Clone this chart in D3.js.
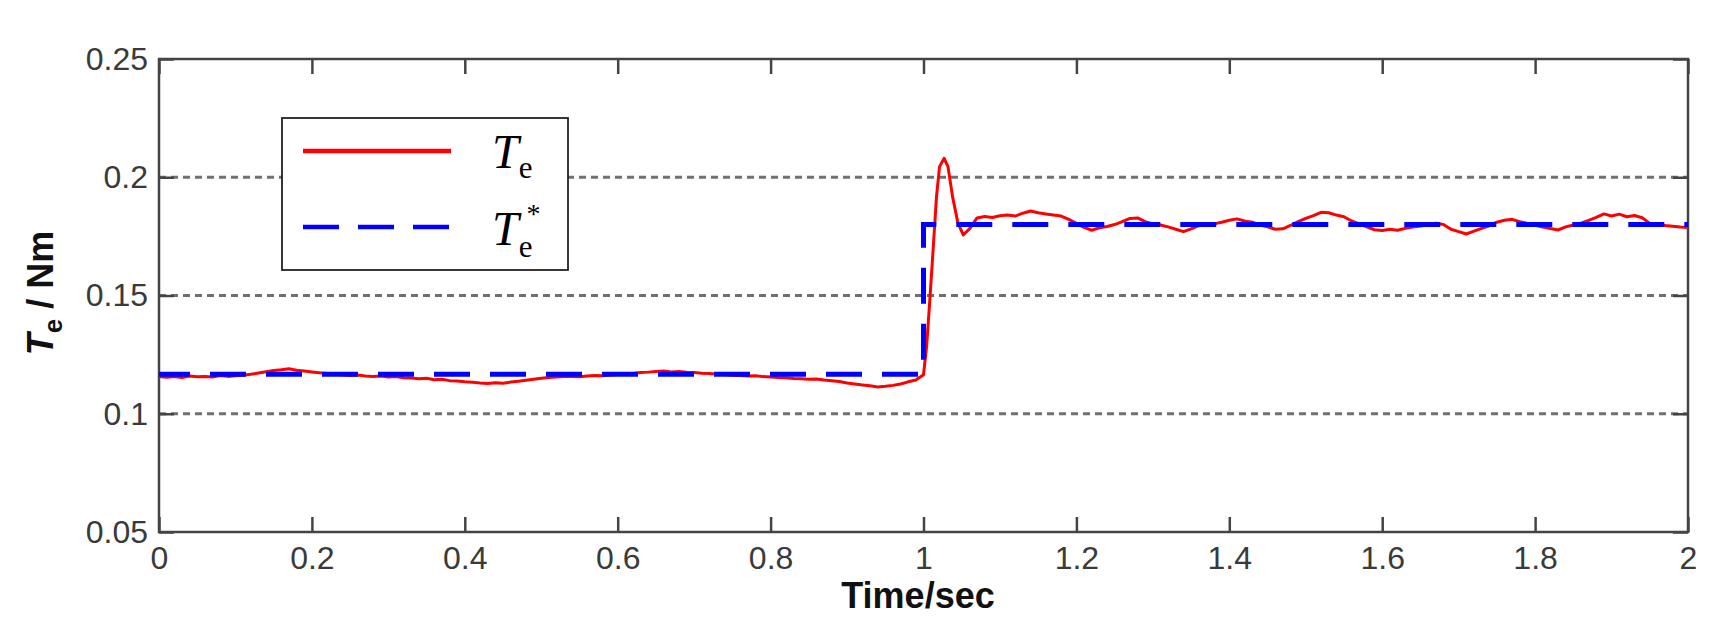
<!DOCTYPE html>
<html>
<head>
<meta charset="utf-8">
<script src="https://cdn.jsdelivr.net/npm/d3@7"></script>
<style>
  html, body { margin: 0; padding: 0; background: #fff; }
  svg { display: block; }
</style>
</head>
<body>
<script>
// ---- data ----
const xTicks = [0, 0.2, 0.4, 0.6, 0.8, 1, 1.2, 1.4, 1.6, 1.8, 2];
const yTicks = [0.05, 0.1, 0.15, 0.2, 0.25];
const gridValues = [0.1, 0.15, 0.2];

const teTime = [
  0.00,0.01,0.02,0.03,0.04,0.05,0.06,0.07,0.08,0.09,
  0.10,0.11,0.12,0.13,0.14,0.15,0.16,0.17,0.18,0.19,
  0.20,0.21,0.22,0.23,0.24,0.25,0.26,0.27,0.28,0.29,
  0.30,0.31,0.32,0.33,0.34,0.35,0.36,0.37,0.38,0.39,
  0.40,0.41,0.42,0.43,0.44,0.45,0.46,0.47,0.48,0.49,
  0.50,0.51,0.52,0.53,0.54,0.55,0.56,0.57,0.58,0.59,
  0.60,0.61,0.62,0.63,0.64,0.65,0.66,0.67,0.68,0.69,
  0.70,0.71,0.72,0.73,0.74,0.75,0.76,0.77,0.78,0.79,
  0.80,0.81,0.82,0.83,0.84,0.85,0.86,0.87,0.88,0.89,
  0.90,0.91,0.92,0.93,0.94,0.95,0.96,0.97,0.98,0.99,
  1.000,1.004,1.008,1.012,1.017,1.021,1.027,1.032,1.038,1.045,1.052,1.061,
  1.07,1.08,1.09,1.10,1.11,1.12,1.13,1.14,1.15,1.16,1.17,1.18,1.19,
  1.20,1.21,1.22,1.23,1.24,1.25,1.26,1.27,1.28,1.29,
  1.30,1.31,1.32,1.33,1.34,1.35,1.36,1.37,1.38,1.39,
  1.40,1.41,1.42,1.43,1.44,1.45,1.46,1.47,1.48,1.49,
  1.50,1.51,1.52,1.53,1.54,1.55,1.56,1.57,1.58,1.59,
  1.60,1.61,1.62,1.63,1.64,1.65,1.66,1.67,1.68,1.69,
  1.70,1.71,1.72,1.73,1.74,1.75,1.76,1.77,1.78,1.79,
  1.80,1.81,1.82,1.83,1.84,1.85,1.86,1.87,1.88,1.89,
  1.90,1.91,1.92,1.93,1.94,1.95,1.96,1.97,1.98,1.99,2.00];
const teValue = [
  0.1158,0.1154,0.1157,0.1153,0.1160,0.1156,0.1158,0.1155,0.1162,0.1158,
  0.1161,0.1163,0.1167,0.1172,0.1178,0.1183,0.1186,0.1190,0.1184,0.1181,
  0.1177,0.1173,0.1170,0.1167,0.1165,0.1162,0.1164,0.1160,0.1158,0.1160,
  0.1155,0.1157,0.1152,0.1151,0.1148,0.1150,0.1144,0.1146,0.1140,0.1138,
  0.1135,0.1133,0.1130,0.1128,0.1131,0.1129,0.1134,0.1137,0.1142,0.1146,
  0.1150,0.1153,0.1155,0.1157,0.1158,0.1156,0.1160,0.1162,0.1161,0.1164,
  0.1166,0.1168,0.1170,0.1174,0.1176,0.1179,0.1181,0.1177,0.1179,0.1175,
  0.1174,0.1171,0.1170,0.1167,0.1166,0.1163,0.1162,0.1160,0.1161,0.1157,
  0.1155,0.1153,0.1152,0.1149,0.1148,0.1146,0.1147,0.1143,0.1140,0.1136,
  0.1130,0.1126,0.1122,0.1118,0.1113,0.1116,0.1120,0.1126,0.1135,0.1143,
  0.1165,0.1283,0.1468,0.1664,0.1918,0.2045,0.2080,0.2045,0.1918,0.1807,0.1756,0.1785,
  0.1828,0.1834,0.1830,0.1837,0.1840,0.1836,0.1848,0.1857,0.1850,0.1845,0.1840,0.1836,0.1822,
  0.1805,0.1788,0.1776,0.1786,0.1792,0.1800,0.1812,0.1826,0.1828,0.1812,
  0.1803,0.1798,0.1790,0.1780,0.1770,0.1782,0.1795,0.1800,0.1803,0.1810,
  0.1818,0.1824,0.1815,0.1810,0.1798,0.1790,0.1780,0.1782,0.1796,0.1812,
  0.1826,0.1838,0.1852,0.1850,0.1840,0.1833,0.1815,0.1803,0.1790,0.1778,
  0.1775,0.1780,0.1776,0.1784,0.1790,0.1794,0.1798,0.1806,0.1800,0.1780,
  0.1770,0.1760,0.1772,0.1784,0.1795,0.1810,0.1818,0.1822,0.1812,0.1805,
  0.1797,0.1790,0.1783,0.1777,0.1790,0.1798,0.1806,0.1818,0.1830,0.1845,
  0.1836,0.1844,0.1833,0.1838,0.1829,0.1805,0.1800,0.1796,0.1793,0.1790,0.1788];

const refTime = [0, 1, 1, 2];
const refValue = [0.1167, 0.1167, 0.18, 0.18];

// ---- layout ----
const W = 1720, H = 636;
const L = 159, R = 1688, T = 59, B = 532;

const svg = d3.select("body").append("svg").attr("width", W).attr("height", H);
const x = d3.scaleLinear().domain([0, 2]).range([L, R]);
const y = d3.scaleLinear().domain([0.05, 0.25]).range([B, T]);

svg.append("defs").append("clipPath").attr("id", "clip")
  .append("rect").attr("x", L).attr("y", T).attr("width", R - L).attr("height", B - T);

// grid
svg.append("g").selectAll("line").data(gridValues).join("line")
  .attr("x1", L).attr("x2", R).attr("y1", d => y(d)).attr("y2", d => y(d))
  .attr("stroke", "#707070").attr("stroke-width", 2.8).attr("stroke-dasharray", "7,5");

// axes
const axisColor = "#444";
const tickFont = "'Liberation Sans', Arial, sans-serif";
function styleAxis(g) {
  g.select(".domain").remove();
  g.selectAll(".tick line").attr("stroke", axisColor).attr("stroke-width", 2.5);
  g.selectAll(".tick text").attr("fill", "#3a3a3a").attr("font-size", 32).attr("font-family", tickFont);
}
const fmt = d => String(+d.toFixed(2));
svg.append("g").attr("transform", `translate(0,${B})`)
  .call(d3.axisBottom(x).tickValues(xTicks).tickSize(-15).tickPadding(14).tickFormat(fmt))
  .call(styleAxis);
svg.append("g").attr("transform", `translate(0,${T})`)
  .call(d3.axisTop(x).tickValues(xTicks).tickSize(-15).tickFormat(""))
  .call(styleAxis);
svg.append("g").attr("transform", `translate(${L},0)`)
  .call(d3.axisLeft(y).tickValues(yTicks).tickSize(-15).tickPadding(11).tickFormat(fmt))
  .call(styleAxis);
svg.append("g").attr("transform", `translate(${R},0)`)
  .call(d3.axisRight(y).tickValues(yTicks).tickSize(-15).tickFormat(""))
  .call(styleAxis);

// frame
svg.append("rect").attr("x", L).attr("y", T).attr("width", R - L).attr("height", B - T)
  .attr("fill", "none").attr("stroke", axisColor).attr("stroke-width", 2.5);

// lines
const plot = svg.append("g").attr("clip-path", "url(#clip)");
const teData = teTime.map((t, i) => [t, teValue[i]]);
const refData = refTime.map((t, i) => [t, refValue[i]]);
const line = d3.line().x(d => x(d[0])).y(d => y(d[1]));

plot.append("path").datum(teData).attr("d", line)
  .attr("fill", "none").attr("stroke", "#ff0000").attr("stroke-width", 3).attr("stroke-linejoin", "round");
plot.append("path").datum(refData).attr("d", line)
  .attr("fill", "none").attr("stroke", "#0000ff").attr("stroke-width", 5)
  .attr("stroke-dasharray", "36,20").attr("stroke-dashoffset", 5);

// legend
const lg = svg.append("g");
lg.append("rect").attr("x", 282).attr("y", 118).attr("width", 286).attr("height", 152)
  .attr("fill", "#fff").attr("stroke", "#222").attr("stroke-width", 1.8);
lg.append("line").attr("x1", 303).attr("x2", 451).attr("y1", 151).attr("y2", 151)
  .attr("stroke", "#ff0000").attr("stroke-width", 4.5);
lg.append("line").attr("x1", 303).attr("x2", 451).attr("y1", 227).attr("y2", 227)
  .attr("stroke", "#0000ff").attr("stroke-width", 4.5).attr("stroke-dasharray", "36,19");
const serif = "'Liberation Serif', 'Times New Roman', serif";
const t1 = lg.append("text").attr("x", 492).attr("y", 168).attr("font-family", serif).attr("fill", "#000");
t1.append("tspan").attr("font-style", "italic").attr("font-size", 48).text("T");
t1.append("tspan").attr("font-size", 31).attr("dy", 10).text("e");
const t2 = lg.append("text").attr("x", 492).attr("y", 245).attr("font-family", serif).attr("fill", "#000");
t2.append("tspan").attr("font-style", "italic").attr("font-size", 48).text("T");
t2.append("tspan").attr("font-size", 31).attr("dy", 12).text("e");
t2.append("tspan").attr("font-size", 28).attr("dx", -6).attr("dy", -34).text("*");

// axis titles
svg.append("text").attr("x", 918).attr("y", 608).attr("text-anchor", "middle")
  .attr("font-family", tickFont).attr("font-weight", "bold").attr("font-size", 36).attr("fill", "#111")
  .text("Time/sec");
const yt = svg.append("text").attr("transform", "translate(53,293) rotate(-90)").attr("text-anchor", "middle")
  .attr("font-family", tickFont).attr("font-weight", "bold").attr("font-size", 36).attr("fill", "#111");
yt.append("tspan").attr("font-style", "italic").text("T");
yt.append("tspan").attr("font-size", 26).attr("dy", 9).text("e");
yt.append("tspan").attr("dy", -9).text(" / Nm");
</script>
</body>
</html>
